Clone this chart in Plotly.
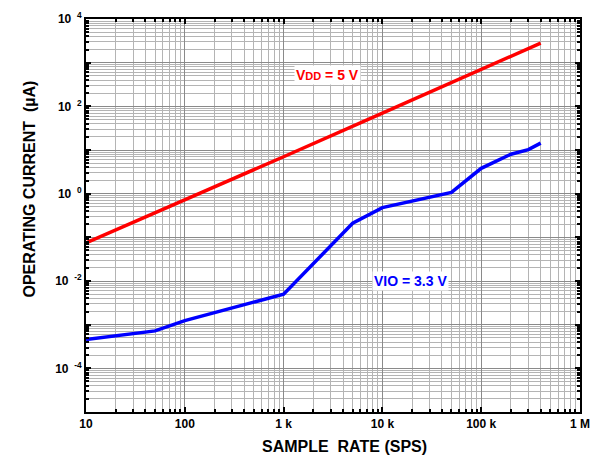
import plotly.graph_objects as go

FONT = "Liberation Sans, Arial, sans-serif"

# VDD = 5 V
vdd_rate = [10, 100, 1000, 10000, 100000, 400000]
vdd_current = [0.075, 0.72, 7.0, 70, 700, 2800]

# VIO = 3.3 V
vio_rate = [10, 50, 100, 1000, 5000, 10000, 50000, 100000, 200000, 300000, 400000]
vio_current = [4.6e-4, 7.2e-4, 1.24e-3, 5.0e-3, 0.21, 0.48, 1.07, 3.8, 8.0, 10.2, 14.4]

x_tickvals = [10, 100, 1000, 10000, 100000, 1000000]
x_ticktext = ["10", "100", "1 k", "10 k", "100 k", "1 M"]

y_tickvals = [1e-5, 1e-4, 1e-3, 1e-2, 1e-1, 1, 10, 100, 1000, 10000]
y_ticktext = ["", "10 <sup> -4</sup>", "", "10 <sup> -2</sup>", "", "10 <sup> 0</sup>",
              "", "10 <sup> 2</sup>", "", "10 <sup> 4</sup>"]

fig = go.Figure()

fig.add_trace(go.Scatter(x=vdd_rate, y=vdd_current, mode="lines",
                         line=dict(color="#ff0000", width=3.5)))
fig.add_trace(go.Scatter(x=vio_rate, y=vio_current, mode="lines",
                         line=dict(color="#0000ff", width=3.5)))

fig.add_annotation(x=3.44, y=2.72, xref="x", yref="y",
                   text="<b>V<span style='font-size:11px'>DD</span> = 5 V</b>",
                   showarrow=False, bgcolor="white",
                   font=dict(color="#ff0000", size=14, family=FONT))
fig.add_annotation(x=4.28, y=-2.0, xref="x", yref="y",
                   text="<b>VIO = 3.3 V</b>",
                   showarrow=False, bgcolor="white",
                   font=dict(color="#0000ff", size=14, family=FONT))

# axis titles placed as in the original (not centred on the plot)
fig.add_annotation(x=344, y=14, xref="paper", yref="paper",
                   text="<b>SAMPLE  RATE (SPS)</b>", showarrow=False,
                   font=dict(family=FONT, size=16, color="black"))
fig.add_annotation(x=18, y=282, xref="paper", yref="paper",
                   text="<b>OPERATING CURRENT  (µA)</b>", showarrow=False,
                   textangle=-90,
                   font=dict(family=FONT, size=16, color="black"))

axis_common = dict(
    showline=True, linecolor="black", linewidth=2, mirror="allticks",
    ticks="inside", ticklen=5, tickcolor="black", tickwidth=1.5,
    showgrid=True, gridcolor="#8a8a8a", gridwidth=1.2,
    zeroline=False, automargin=False, ticklabeloverflow="allow",
    tickfont=dict(family=FONT, size=12, color="black", weight="bold"),
)

fig.update_xaxes(
    type="log", range=[1, 6],
    tickvals=x_tickvals, ticktext=x_ticktext,
    minor=dict(dtick="D1", showgrid=True, gridcolor="#b4b4b4", gridwidth=1,
               ticks="inside", ticklen=3, tickcolor="black"),
    **axis_common,
)
fig.update_yaxes(
    type="log", range=[-5, 4],
    tickvals=y_tickvals, ticktext=y_ticktext,
    minor=dict(dtick="D1", showgrid=True, gridcolor="#b4b4b4", gridwidth=1,
               ticks="inside", ticklen=3, tickcolor="black"),
    **axis_common,
)

W, H = 592, 471
L, R, T, B = 86, 12, 19, 59
fig.update_layout(
    width=W, height=H,
    margin=dict(l=L, r=R, t=T, b=B),
    plot_bgcolor="white", paper_bgcolor="white",
    showlegend=False,
    font=dict(family=FONT, color="black"),
)

# convert the title annotations from pixel to paper fractions
pw, ph = W - L - R, H - T - B
for ann in fig.layout.annotations[2:]:
    ann.x = (ann.x - L) / pw
    ann.y = (ann.y - B) / ph

# page without the default body margin so the figure fills the window
fig.write_html("out.html",
               config={"displayModeBar": False},
               post_script="document.body.style.margin='0';"
                           "document.body.style.overflow='hidden';")
